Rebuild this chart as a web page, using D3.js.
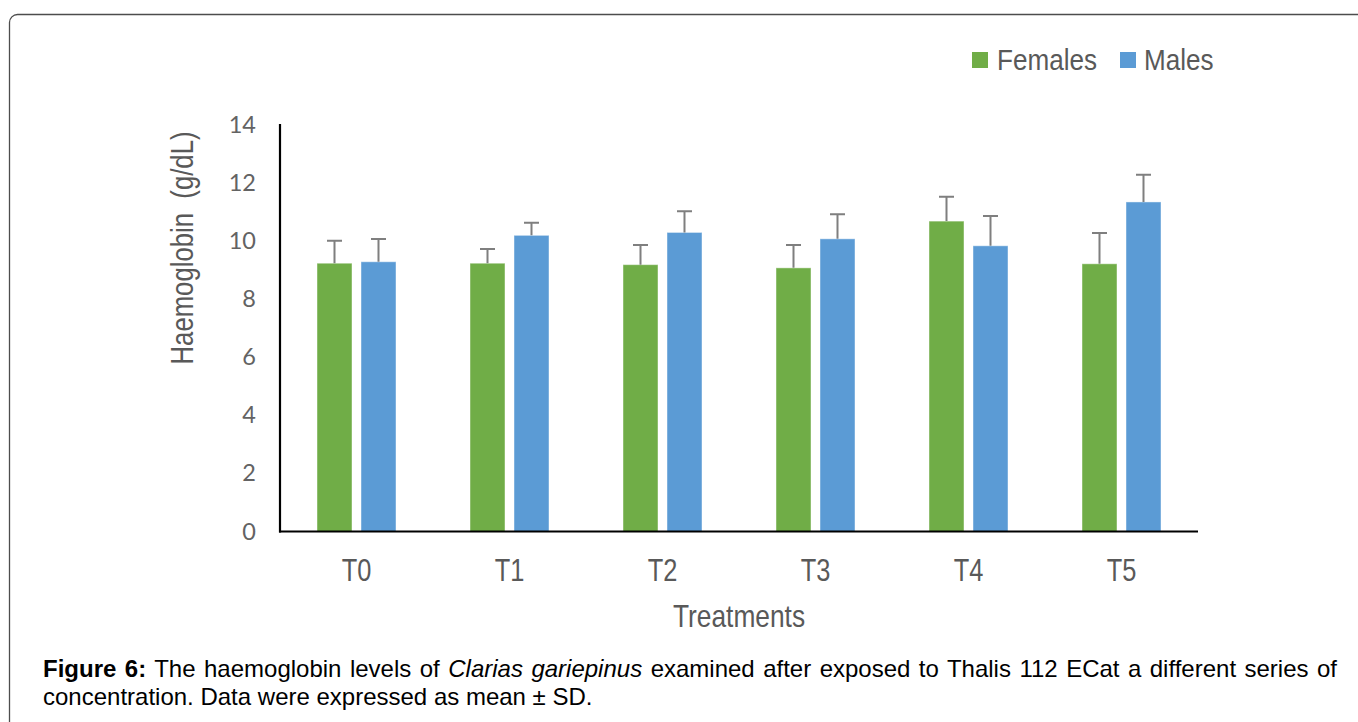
<!DOCTYPE html>
<html>
<head>
<meta charset="utf-8">
<script src="https://cdn.jsdelivr.net/npm/d3@7"></script>
<style>
  html, body { margin: 0; padding: 0; background: #fff; }
  svg { display: block; }
</style>
</head>
<body>
<svg id="chart" width="1358" height="722"></svg>
<script>
// ---- data ----
const categories = ["T0", "T1", "T2", "T3", "T4", "T5"];
const seriesNames = ["Females", "Males"];
const femalesMean = [9.24, 9.24, 9.19, 9.08, 10.69, 9.22];
const femalesSD   = [0.77, 0.49, 0.68, 0.79, 0.84, 1.06];
const malesMean   = [9.29, 10.20, 10.30, 10.08, 9.84, 11.35];
const malesSD     = [0.78, 0.43, 0.73, 0.85, 1.03, 0.94];
const yTicks = [0, 2, 4, 6, 8, 10, 12, 14];

const colors = { Females: "#70AD47", Males: "#5B9BD5" };
const narrowFont = "'Liberation Sans', Arial, sans-serif";

const svg = d3.select("#chart");

// frame
svg.append("rect")
  .attr("x", 9.5).attr("y", 14.5)
  .attr("width", 1400).attr("height", 800)
  .attr("rx", 8).attr("ry", 8)
  .attr("fill", "none")
  .attr("stroke", "#4d4d4d")
  .attr("stroke-width", 1.3);

const plotL = 280, plotR = 1198, plotT = 125, plotB = 531.5;

const x0 = d3.scaleBand().domain(categories).range([plotL, plotR]).padding(0);
const groupW = 79;
const x1 = d3.scaleBand().domain(seriesNames)
  .range([x0.bandwidth() / 2 - groupW / 2, x0.bandwidth() / 2 + groupW / 2])
  .paddingInner(0.2045).paddingOuter(0);
const y = d3.scaleLinear().domain([0, 14]).range([plotB, plotT]);

const rows = categories.map((c, i) => ({
  cat: c,
  vals: [
    { s: "Females", v: femalesMean[i], sd: femalesSD[i] },
    { s: "Males", v: malesMean[i], sd: malesSD[i] }
  ]
}));

const g = svg.append("g");
const groups = g.selectAll("g.grp").data(rows).join("g")
  .attr("class", "grp")
  .attr("transform", d => `translate(${x0(d.cat)},0)`);

groups.selectAll("rect").data(d => d.vals).join("rect")
  .attr("x", d => x1(d.s))
  .attr("y", d => y(d.v))
  .attr("width", x1.bandwidth())
  .attr("height", d => y(0) - y(d.v))
  .attr("fill", d => colors[d.s])
  .attr("stroke", "#ffffff")
  .attr("stroke-opacity", 0.45)
  .attr("stroke-width", 1);

// error bars (upper only)
const capW = 15;
groups.selectAll("path.err").data(d => d.vals).join("path")
  .attr("class", "err")
  .attr("d", d => {
    const cx = x1(d.s) + x1.bandwidth() / 2;
    const y1 = y(d.v), y2 = y(d.v + d.sd);
    return `M${cx},${y1}V${y2}M${cx - capW / 2},${y2}H${cx + capW / 2}`;
  })
  .attr("fill", "none")
  .attr("stroke", "#7f7f7f")
  .attr("stroke-width", 2);

// axes lines
g.append("line").attr("x1", plotL).attr("x2", plotL).attr("y1", plotT - 1).attr("y2", plotB + 1)
  .attr("stroke", "#000").attr("stroke-width", 2.2);
g.append("line").attr("x1", plotL - 1).attr("x2", plotR).attr("y1", plotB).attr("y2", plotB)
  .attr("stroke", "#000").attr("stroke-width", 2.2);

// y tick labels
g.selectAll("text.ytick").data(yTicks).join("text")
  .attr("class", "ytick")
  .attr("x", 256)
  .attr("y", d => y(d) + 8)
  .attr("text-anchor", "end")
  .attr("font-family", "Lato, 'Open Sans', sans-serif")
  .attr("font-size", 23.5)
  .attr("fill", "#636363")
  .text(d => d);

// x category labels (condensed)
g.selectAll("text.xtick").data(categories).join("text")
  .attr("class", "xtick")
  .attr("transform", d => `translate(${x0(d) + x0.bandwidth() / 2},581) scale(0.82,1)`)
  .attr("text-anchor", "middle")
  .attr("font-family", narrowFont)
  .attr("font-size", 31)
  .attr("fill", "#595959")
  .text(d => d);

// axis titles
svg.append("text")
  .attr("transform", `translate(${(plotL + plotR) / 2},627) scale(0.85,1)`)
  .attr("text-anchor", "middle")
  .attr("font-family", narrowFont)
  .attr("font-size", 31)
  .attr("fill", "#595959")
  .text("Treatments");

svg.append("text")
  .attr("transform", "translate(193,248) rotate(-90) scale(0.83,1)")
  .attr("text-anchor", "middle")
  .attr("font-family", narrowFont)
  .attr("font-size", 31)
  .attr("fill", "#595959")
  .style("white-space", "pre")
  .text("Haemoglobin  (g/dL)");

// legend
const legendItems = [
  { s: "Females", sx: 972, tx: 997 },
  { s: "Males", sx: 1120, tx: 1144 }
];
const lg = svg.append("g");
lg.selectAll("rect").data(legendItems).join("rect")
  .attr("x", d => d.sx).attr("y", 52)
  .attr("width", 16).attr("height", 16)
  .attr("fill", d => colors[d.s]);
lg.selectAll("text").data(legendItems).join("text")
  .attr("transform", d => `translate(${d.tx},70) scale(0.9,1)`)
  .attr("font-family", narrowFont)
  .attr("font-size", 29)
  .attr("fill", "#595959")
  .text(d => d.s);

// caption
const capFont = 24;
const cap1 = svg.append("text")
  .attr("x", 43).attr("y", 677)
  .attr("font-family", "'Liberation Sans', Arial, sans-serif")
  .attr("font-size", capFont)
  .attr("fill", "#000");
cap1.append("tspan").attr("font-weight", "bold").text("Figure 6:");
cap1.append("tspan").text(" The haemoglobin levels of ");
cap1.append("tspan").attr("font-style", "italic").text("Clarias gariepinus");
cap1.append("tspan").text(" examined after exposed to Thalis 112 ECat a different series of");
const fullText = "Figure 6: The haemoglobin levels of Clarias gariepinus examined after exposed to Thalis 112 ECat a different series of";
const nSpaces = (fullText.match(/ /g) || []).length;
const len = cap1.node().getComputedTextLength();
const target = 1337 - 43;
if (len < target) {
  cap1.attr("word-spacing", (target - len) / nSpaces);
} else {
  cap1.attr("textLength", target).attr("lengthAdjust", "spacingAndGlyphs");
}

svg.append("text")
  .attr("x", 43).attr("y", 705)
  .attr("font-family", "'Liberation Sans', Arial, sans-serif")
  .attr("font-size", capFont)
  .attr("fill", "#000")
  .text("concentration. Data were expressed as mean ± SD.");
</script>
</body>
</html>
